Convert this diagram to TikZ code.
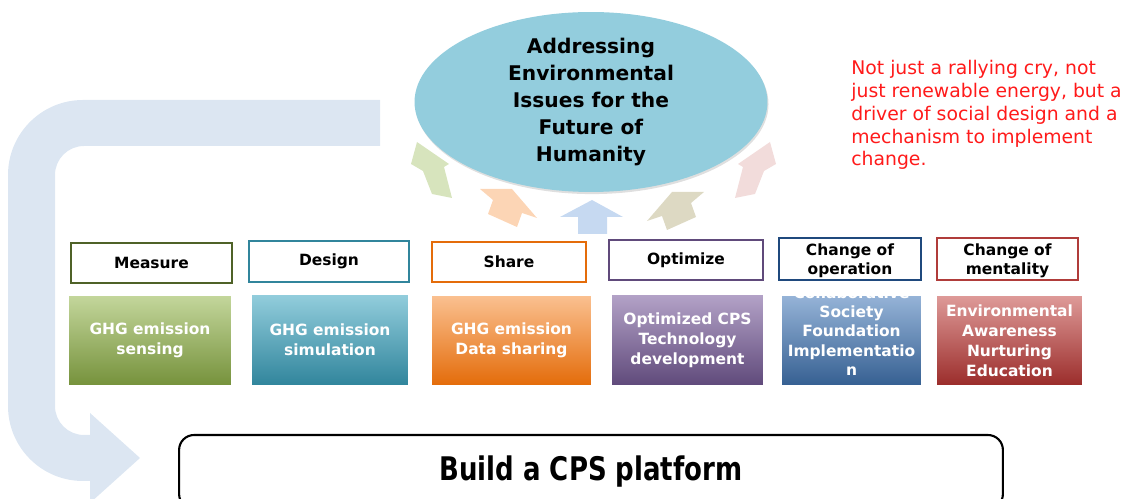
\documentclass[tikz,border=0pt]{standalone}
\usepackage{fontspec}
\setmainfont{DejaVu Sans}
\usetikzlibrary{shapes.geometric,shadows}
\definecolor{uarrow}{HTML}{DCE6F2}
\definecolor{ellfill}{HTML}{93CDDD}
\definecolor{agreen}{HTML}{D7E4BD}
\definecolor{aorange}{HTML}{FCD5B5}
\definecolor{ablue}{HTML}{C6D9F1}
\definecolor{akhaki}{HTML}{DDD9C3}
\definecolor{apink}{HTML}{F2DCDB}
\definecolor{bgreen}{HTML}{4F6228}
\definecolor{bteal}{HTML}{31859C}
\definecolor{borange}{HTML}{E46C0A}
\definecolor{bpurple}{HTML}{604A7B}
\definecolor{bnavy}{HTML}{1F497D}
\definecolor{bred}{HTML}{B03C3A}
\definecolor{redtext}{HTML}{FF1A1A}
\definecolor{g1t}{HTML}{C3D69B}\definecolor{g1b}{HTML}{76923C}
\definecolor{g2t}{HTML}{92CDDC}\definecolor{g2b}{HTML}{31859C}
\definecolor{g3t}{HTML}{FAC090}\definecolor{g3b}{HTML}{E46C0A}
\definecolor{g4t}{HTML}{B3A2C7}\definecolor{g4b}{HTML}{604A7B}
\definecolor{g5t}{HTML}{95B3D7}\definecolor{g5b}{HTML}{366092}
\definecolor{g6t}{HTML}{DE9A98}\definecolor{g6b}{HTML}{9B2D2B}
\newcommand\lblfont{\fontsize{8.8}{11.3}\selectfont\bfseries}
\begin{document}
\begin{tikzpicture}[x=0.02cm,y=-0.02cm,
  lbl/.style={draw=#1, line width=1.1pt, fill=white, inner sep=0pt, align=center, font=\lblfont, text=black},
  gbox/.style 2 args={top color=#1, bottom color=#2, draw=none, inner sep=0pt, align=center, text=white, font=\lblfont}]
\useasboundingbox (0,0) rectangle (1127,499);
\clip (0,0) rectangle (1127,499);

% big U-turn arrow
\fill[uarrow] (380,100) -- (83,100) arc[start angle=270, end angle=180, radius=75]
  -- (8,406) arc[start angle=180, end angle=90, radius=75]
  -- (90,481) -- (90,503) -- (140,458) -- (90,413) -- (90,435)
  -- (84,435) arc[start angle=90, end angle=180, radius=29]
  -- (55,175) arc[start angle=180, end angle=270, radius=29]
  -- (380,146) -- cycle;

% small arrows around the ellipse
\fill[agreen] (417,142) -- (449,164) -- (444,167) -- (452,198) -- (432,194) -- (423,171) -- (411,164) -- cycle;
\fill[aorange] (480,189) -- (512,189) -- (537,218) -- (522,213) -- (517,227) -- (488,214) -- (493,200) -- cycle;
\fill[ablue] (592,200) -- (623,217) -- (607,217) -- (607,234) -- (578,234) -- (578,217) -- (560,217) -- cycle;
\fill[akhaki] (704,192) -- (672,192) -- (647,221) -- (662,216) -- (667,230) -- (696,217) -- (691,203) -- cycle;
\fill[apink] (770,142) -- (738,164) -- (743,167) -- (735,198) -- (755,194) -- (764,171) -- (776,164) -- cycle;

% ellipse
\node[ellipse, fill=ellfill, draw=none, minimum width=7.06cm, minimum height=3.6cm, inner sep=0pt, align=center,
  font=\fontsize{11.5}{15.3}\selectfont\bfseries,
  drop shadow={opacity=0.25, shadow xshift=0.6pt, shadow yshift=-1.2pt}] (goal) at (591,102)
  {Addressing\\Environmental\\Issues for the\\Future of\\Humanity};

% red note
\node[anchor=north west, inner sep=0pt, align=left, text=redtext, font=\fontsize{10.7}{13}\selectfont] (note) at (851,60)
  {Not just a rallying cry, not\\just renewable energy, but a\\driver of social design and a\\mechanism to implement\\change.};

% label boxes
\node[lbl=bgreen, minimum width=3.22cm, minimum height=0.8cm] (l1) at (151.5,263) {Measure};
\node[lbl=bteal, minimum width=3.2cm, minimum height=0.82cm] (l2) at (329,261.5) {Design};
\node[lbl=borange, minimum width=3.08cm, minimum height=0.8cm] (l3) at (509,262) {Share};
\node[lbl=bpurple, minimum width=3.08cm, minimum height=0.8cm] (l4) at (686,260) {Optimize};
\node[lbl=bnavy, minimum width=2.84cm, minimum height=0.84cm] (l5) at (850,259) {};
\node[inner sep=0pt, align=center, font=\fontsize{8.8}{10.8}\selectfont\bfseries] (l5t) at (850,260.5) {Change of\\operation};
\node[lbl=bred, minimum width=2.82cm, minimum height=0.84cm] (l6) at (1007.5,259) {};
\node[inner sep=0pt, align=center, font=\fontsize{8.8}{10.8}\selectfont\bfseries] (l6t) at (1007.5,260.5) {Change of\\mentality};

% gradient boxes
\node[gbox={g1t}{g1b}, minimum width=3.24cm, minimum height=1.78cm] (g1) at (150,340.5) {GHG emission\\sensing};
\node[gbox={g2t}{g2b}, minimum width=3.12cm, minimum height=1.8cm] (g2) at (330,340) {GHG emission\\simulation};
\node[gbox={g3t}{g3b}, minimum width=3.18cm, minimum height=1.78cm] (g3) at (511.5,340.5) {GHG emission\\Data sharing};
\node[gbox={g4t}{g4b}, minimum width=3.02cm, minimum height=1.8cm] (g4) at (687.5,340) {Optimized CPS\\Technology\\development};
\node[gbox={g5t}{g5b}, minimum width=2.78cm, minimum height=1.78cm] (g5) at (851.5,340.5) {};
\node[inner sep=0pt, align=center, text=white, font=\fontsize{8.8}{11}\selectfont\bfseries] (g5t) at (851.5,331)
  {Collaborative\\Society\\Foundation\\Implementatio\\n};
\node[gbox={g6t}{g6b}, minimum width=2.9cm, minimum height=1.78cm] (g6) at (1009.5,340.5) {Environmental\\Awareness\\Nurturing\\Education};

% bottom platform box
\node[draw=black, line width=1.2pt, rounded corners=0.3cm, fill=white, minimum width=16.48cm, minimum height=1.48cm,
  inner sep=0pt, font=\fontsize{18.5}{22}\selectfont\bfseries] (cps) at (591,472)
  {\scalebox{0.8}[1]{Build a CPS platform}};
\end{tikzpicture}
\end{document}
